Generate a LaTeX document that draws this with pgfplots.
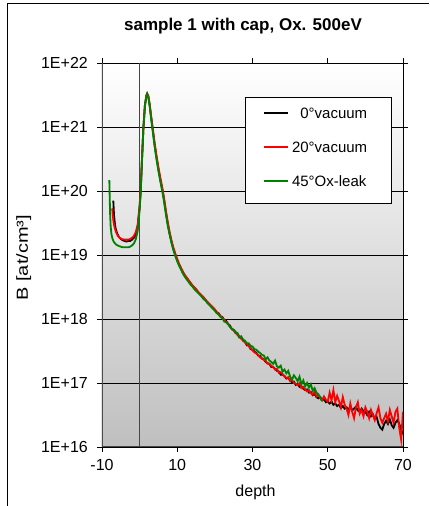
\documentclass[border=0pt]{standalone}
\usepackage{pgfplots}
\pgfplotsset{compat=1.18}
\usepackage{fontspec}
\setmainfont{Liberation Sans}
\definecolor{xlred}{RGB}{255,0,0}
\definecolor{xlgreen}{RGB}{0,128,0}
\pgfplotstableread{
x y
-7.0 19.85
-6.8 19.62
-6.6 19.50
-6.4 19.42
-6.0 19.34
-5.5 19.28
-5.0 19.25
-4.5 19.23
-4.0 19.22
-3.5 19.21
-3.0 19.22
-2.5 19.22
-2.0 19.24
-1.5 19.27
-1.0 19.32
-0.5 19.45
0.0 19.75
0.3 20.02
0.6 20.45
1.0 20.98
1.4 21.33
1.8 21.49
2.0 21.52
2.3 21.48
2.7 21.33
3.0 21.18
3.4 21.00
4.0 20.72
4.5 20.52
5.0 20.34
5.5 20.18
6.1 20.00
6.5 19.86
7.0 19.66
7.5 19.48
8.0 19.33
8.5 19.20
9.0 19.09
9.5 19.00
10.0 18.92
10.5 18.85
11.0 18.79
11.5 18.73
12.0 18.68
12.5 18.64
13.0 18.60
13.5 18.56
14.0 18.52
14.5 18.49
15.0 18.46
15.5 18.42
16.0 18.39
16.5 18.36
17.0 18.33
17.5 18.30
18.0 18.26
18.5 18.23
19.0 18.20
19.5 18.17
20.0 18.14
20.5 18.10
21.0 18.09
21.5 18.04
22.0 18.03
22.5 17.98
23.0 17.97
23.5 17.92
24.0 17.90
24.5 17.84
25.0 17.83
25.5 17.78
26.0 17.77
26.5 17.71
27.0 17.71
27.5 17.66
28.0 17.65
28.5 17.59
29.0 17.60
29.5 17.53
30.0 17.52
30.5 17.49
31.0 17.47
31.5 17.43
32.0 17.42
32.5 17.38
33.0 17.37
33.5 17.33
34.0 17.31
34.5 17.30
35.0 17.25
35.5 17.25
36.0 17.22
36.5 17.19
37.0 17.18
37.5 17.13
38.0 17.13
38.5 17.11
39.0 17.07
39.5 17.08
40.0 17.04
40.5 17.01
41.0 17.02
41.5 16.97
42.0 16.99
42.5 16.94
43.0 16.95
43.5 16.91
44.0 16.89
44.5 16.90
45.0 16.85
45.5 16.86
46.0 16.81
46.5 16.83
47.0 16.78
47.5 16.76
48.0 16.78
48.5 16.73
49.0 16.75
49.5 16.70
50.0 16.71
50.5 16.68
51.0 16.71
51.5 16.66
52.0 16.68
52.5 16.64
53.0 16.66
53.5 16.61
54.0 16.64
54.5 16.60
55.0 16.62
55.5 16.58
56.0 16.63
56.5 16.57
57.0 16.60
57.5 16.63
58.0 16.57
58.5 16.55
59.0 16.60
59.5 16.56
60.0 16.55
60.5 16.50
61.0 16.55
61.5 16.48
62.0 16.51
62.5 16.44
63.0 16.47
63.5 16.36
64.0 16.30
64.5 16.27
65.0 16.36
65.5 16.41
66.0 16.36
66.5 16.43
67.0 16.34
67.5 16.30
68.0 16.38
68.5 16.42
69.0 16.36
69.5 16.28
70.0 16.20
}\blackdata
\pgfplotstableread{
x y
-7.3 19.73
-7.1 19.60
-6.9 19.50
-6.6 19.42
-6.2 19.35
-5.8 19.30
-5.3 19.27
-4.8 19.25
-4.0 19.24
-3.5 19.24
-3.0 19.24
-2.5 19.25
-2.0 19.27
-1.5 19.30
-1.0 19.36
-0.5 19.48
0.0 19.77
0.3 20.04
0.6 20.47
1.0 20.99
1.4 21.34
1.8 21.49
2.0 21.52
2.3 21.49
2.7 21.35
3.0 21.20
3.4 21.02
4.0 20.75
4.5 20.55
5.0 20.37
5.5 20.21
6.1 20.03
6.5 19.89
7.0 19.69
7.5 19.51
8.0 19.35
8.5 19.22
9.0 19.11
9.5 19.02
10.0 18.94
10.5 18.86
11.0 18.80
11.5 18.74
12.0 18.69
12.5 18.65
13.0 18.61
13.5 18.57
14.0 18.53
14.5 18.50
15.0 18.47
15.5 18.43
16.0 18.40
16.5 18.37
17.0 18.34
17.5 18.30
18.0 18.27
18.5 18.24
19.0 18.21
19.5 18.18
20.0 18.15
20.5 18.11
21.0 18.08
21.5 18.05
22.0 18.02
22.5 17.99
23.0 17.95
23.5 17.93
24.0 17.88
24.5 17.85
25.0 17.82
25.5 17.79
26.0 17.75
26.5 17.73
27.0 17.69
27.5 17.67
28.0 17.63
28.5 17.61
29.0 17.57
29.5 17.55
30.0 17.51
30.5 17.48
31.0 17.46
31.5 17.44
32.0 17.40
32.5 17.39
33.0 17.36
33.5 17.35
34.0 17.30
34.5 17.30
35.0 17.27
35.5 17.25
36.0 17.21
36.5 17.22
37.0 17.16
37.5 17.17
38.0 17.14
38.5 17.10
39.0 17.08
39.5 17.09
40.0 17.03
40.5 17.05
41.0 17.00
41.5 16.99
42.0 16.97
42.5 17.00
43.0 16.92
43.5 16.94
44.0 16.90
44.5 16.87
45.0 16.89
45.5 16.84
46.0 16.82
46.5 16.87
47.0 16.79
47.5 16.82
48.0 16.76
48.5 16.73
49.0 16.79
49.5 16.74
50.0 16.71
50.5 16.85
51.0 16.73
51.5 16.89
52.0 16.70
52.5 16.80
53.0 16.72
53.5 16.62
54.0 16.78
54.5 16.66
55.0 16.60
55.5 16.50
56.0 16.68
56.5 16.55
57.0 16.45
57.5 16.62
58.0 16.70
58.5 16.52
59.0 16.58
59.5 16.48
60.0 16.62
60.5 16.55
61.0 16.45
61.5 16.58
62.0 16.50
62.5 16.42
63.0 16.53
63.5 16.62
64.0 16.45
64.5 16.38
65.0 16.45
65.5 16.52
66.0 16.40
66.5 16.58
67.0 16.48
67.5 16.38
68.0 16.55
68.5 16.60
69.0 16.30
69.5 16.12
70.0 16.55
}\reddata
\pgfplotstableread{
x y
-8.05 20.17
-7.95 19.90
-7.85 19.65
-7.7 19.45
-7.5 19.33
-7.2 19.25
-6.8 19.20
-6.2 19.16
-5.5 19.14
-5.0 19.13
-4.5 19.12
-4.0 19.12
-3.5 19.12
-3.0 19.12
-2.5 19.13
-2.0 19.15
-1.5 19.18
-1.0 19.25
-0.5 19.38
0.0 19.70
0.3 19.99
0.6 20.43
1.0 20.97
1.4 21.33
1.8 21.49
2.0 21.52
2.3 21.47
2.7 21.31
3.0 21.16
3.4 20.97
4.0 20.69
4.5 20.49
5.0 20.31
5.5 20.15
6.1 19.97
6.5 19.83
7.0 19.63
7.5 19.45
8.0 19.31
8.5 19.18
9.0 19.07
9.5 18.98
10.0 18.90
10.5 18.83
11.0 18.77
11.5 18.71
12.0 18.66
12.5 18.62
13.0 18.58
13.5 18.54
14.0 18.51
14.5 18.47
15.0 18.44
15.5 18.41
16.0 18.38
16.5 18.35
17.0 18.31
17.5 18.29
18.0 18.25
18.5 18.22
19.0 18.19
19.5 18.16
20.0 18.13
20.5 18.09
21.0 18.07
21.5 18.03
22.0 18.01
22.5 17.96
23.0 17.95
23.5 17.92
24.0 17.88
24.5 17.85
25.0 17.83
25.5 17.80
26.0 17.78
26.5 17.72
27.0 17.73
27.5 17.68
28.0 17.66
28.5 17.62
29.0 17.62
29.5 17.58
30.0 17.57
30.5 17.53
31.0 17.52
31.5 17.49
32.0 17.47
32.5 17.44
33.0 17.43
33.5 17.37
34.0 17.40
34.5 17.35
35.0 17.33
35.5 17.30
36.0 17.35
36.5 17.26
37.0 17.24
37.5 17.27
38.0 17.18
38.5 17.21
39.0 17.15
39.5 17.19
40.0 17.10
40.5 17.05
41.0 17.12
41.5 17.08
42.0 17.03
42.5 17.10
43.0 16.98
43.5 17.04
44.0 16.95
44.5 17.00
45.0 16.93
45.5 16.98
46.0 16.88
46.5 16.92
47.0 16.85
47.5 16.82
48.0 16.78
48.4 16.72
}\greendata
\begin{document}
\begin{tikzpicture}[x=1pt,y=1pt]
\useasboundingbox (0,0) rectangle (429,506);
\draw[black, line width=1.2pt] (7.5,0) -- (7.5,502.8) -- (429,502.8);
\node[anchor=base, font=\fontsize{17}{20}\selectfont\bfseries] at (243,475.5) {sample 1 with cap, Ox. 500eV};
\begin{axis}[
  at={(102pt,59pt)}, anchor=south west, scale only axis,
  width=301pt, height=384pt,
  xmin=-10, xmax=70, ymin=16, ymax=22,
  xtick={-10,10,30,50,70}, xticklabels={-10,10,30,50,70},
  ytick={16,17,18,19,20,21,22},
  yticklabels={1E+16,1E+17,1E+18,1E+19,1E+20,1E+21,1E+22},
  ymajorgrids, major grid style={black, line width=0.8pt},
  tick align=outside, major tick length=5pt,
  tick style={black, line width=0.8pt},
  axis line style={black, line width=0.8pt},
  axis background/.style={top color=white, bottom color=gray!50},
  ticklabel style={font=\fontsize{16}{18}\selectfont},
  yticklabel style={inner sep=0pt, xshift=-9pt},
  xticklabel style={inner sep=0pt, yshift=-7pt},
  xlabel={depth}, ylabel={\scalebox{1.25}[1]{B [at/cm³]}},
  label style={font=\fontsize{16}{18}\selectfont},
  xlabel style={at={(axis description cs:0.51,-0.130)}, anchor=base},
  ylabel style={at={(axis description cs:-0.246,0.493)}, anchor=base},
  legend style={draw=none, fill=none, at={(axis description cs:0.535,0.884)}, anchor=north west,
    inner sep=0pt, row sep=23pt, font=\fontsize{15}{18}\selectfont,
    nodes={inner sep=0pt, text height=11pt, text depth=0pt},
    /tikz/column sep=3pt},
  legend cell align=left,
  legend image code/.code={\draw[#1] (0pt,0pt) -- (24pt,0pt);},
]
\draw[gray!55!black, line width=1.4pt] (axis cs:0,16) -- (axis cs:0,22);
\draw[gray!60!black, line width=1.3pt] (rel axis cs:0,0) -- (rel axis cs:0,1);
\draw[gray!55!black, line width=1.3pt] (rel axis cs:0,0) -- (rel axis cs:1,0);
\addplot[black, line width=1.8pt, no marks] table {\blackdata};
\addplot[xlred, line width=1.8pt, no marks] table {\reddata};
\addplot[xlgreen, line width=1.8pt, no marks] table {\greendata};
\draw[black, fill=white, line width=0.8pt] (rel axis cs:0.475,0.635) rectangle (rel axis cs:0.960,0.910);
\legend{\phantom{2}0°vacuum, 20°vacuum, 45°Ox-leak}
\end{axis}
\end{tikzpicture}
\end{document}
